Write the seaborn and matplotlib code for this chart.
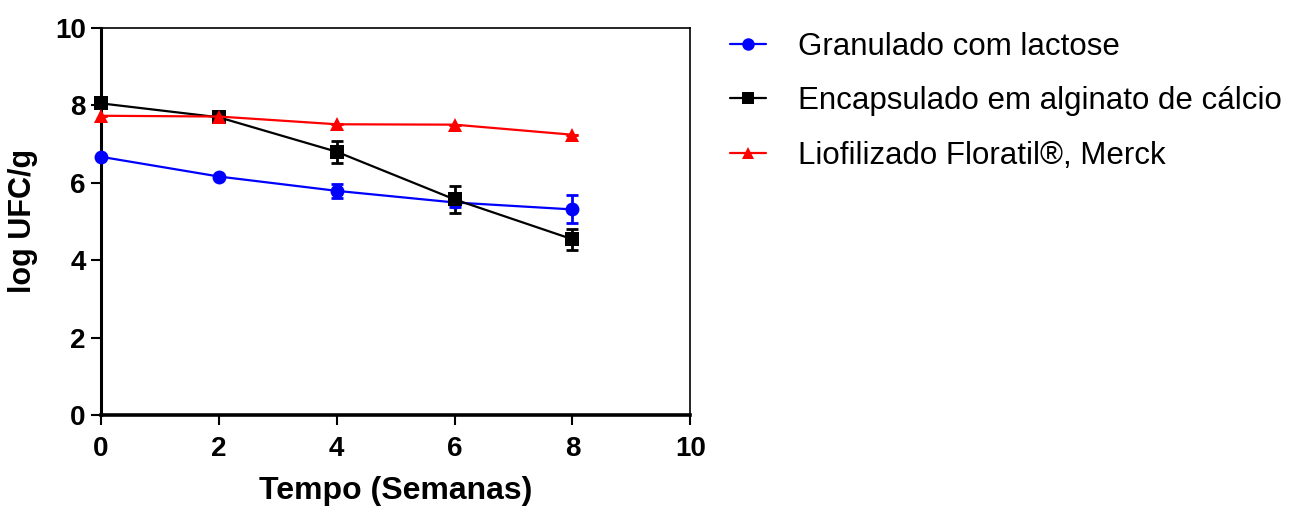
import matplotlib
matplotlib.use("Agg")
import matplotlib.pyplot as plt
import seaborn as sns
import pandas as pd
from matplotlib.lines import Line2D

weeks = [0, 2, 4, 6, 8]
series_names = ["Granulado com lactose",
                "Encapsulado em alginato de cálcio",
                "Liofilizado Floratil®, Merck"]
granulado = [6.67, 6.16, 5.79, 5.49, 5.31]
granulado_err = [0.0, 0.0, 0.18, 0.12, 0.36]
encapsulado = [8.05, 7.69, 6.80, 5.57, 4.54]
encapsulado_err = [0.0, 0.0, 0.28, 0.35, 0.27]
liofilizado = [7.73, 7.71, 7.51, 7.50, 7.24]
liofilizado_err = [0.0, 0.0, 0.0, 0.0, 0.0]
x_ticks = [0, 2, 4, 6, 8, 10]
y_ticks = [0, 2, 4, 6, 8, 10]

colors = ["#0000ff", "#000000", "#ff0000"]
markers = ["o", "s", "^"]

sns.set_theme(style="ticks")
plt.rcParams["font.family"] = ["Liberation Sans", "DejaVu Sans"]
for key in ["text.color", "axes.labelcolor", "xtick.color", "ytick.color"]:
    plt.rcParams[key] = "black"

df = pd.DataFrame({
    "Tempo": weeks * 3,
    "logUFC": granulado + encapsulado + liofilizado,
    "err": granulado_err + encapsulado_err + liofilizado_err,
    "serie": [n for n in series_names for _ in weeks],
})

fig = plt.figure(figsize=(12.95, 5.07), dpi=100)
ax = fig.add_axes([0.078, 0.1815, 0.455, 0.7635])

for name, c in zip(series_names, colors):
    sub = df[df["serie"] == name]
    ax.errorbar(sub["Tempo"], sub["logUFC"], yerr=sub["err"], fmt="none",
                ecolor=c, elinewidth=2, capsize=4, capthick=2, zorder=2)

sns.lineplot(data=df, x="Tempo", y="logUFC", hue="serie", style="serie",
             hue_order=series_names, style_order=series_names,
             palette=colors, markers=markers, dashes=False,
             markersize=10, markeredgewidth=0, linewidth=1.6,
             legend=False, ax=ax, zorder=3, clip_on=False)

ax.set_xlim(0, 10)
ax.set_ylim(0, 10)
ax.set_xticks(x_ticks)
ax.set_yticks(y_ticks)
ax.set_xticklabels([str(t) for t in x_ticks], fontsize=20, fontweight="bold")
ax.set_yticklabels([str(t) for t in y_ticks], fontsize=20, fontweight="bold")
ax.tick_params(axis="both", direction="out", length=7, width=1.5, color="black", pad=4)
ax.tick_params(axis="x", pad=8)
for side in ["left", "right", "top", "bottom"]:
    ax.spines[side].set_visible(True)
    ax.spines[side].set_color("black")
    ax.spines[side].set_linewidth(1.2)
ax.spines["left"].set_linewidth(2.2)
ax.spines["bottom"].set_linewidth(2.6)

ax.set_xlabel("Tempo (Semanas)", fontsize=23, fontweight="bold", labelpad=10)
ax.set_ylabel("log UFC/g", fontsize=22, fontweight="bold", labelpad=12)

handles = [Line2D([0], [0], color=c, marker=m, markersize=9, markeredgewidth=0,
                  linewidth=1.6) for c, m in zip(colors, markers)]
fig.legend(handles, series_names, loc="upper left", bbox_to_anchor=(0.5537, 0.962),
           frameon=False, fontsize=22.5, handlelength=1.18, handletextpad=1.0,
           labelspacing=0.78, borderaxespad=0)

fig.savefig("out.png", dpi=100)
